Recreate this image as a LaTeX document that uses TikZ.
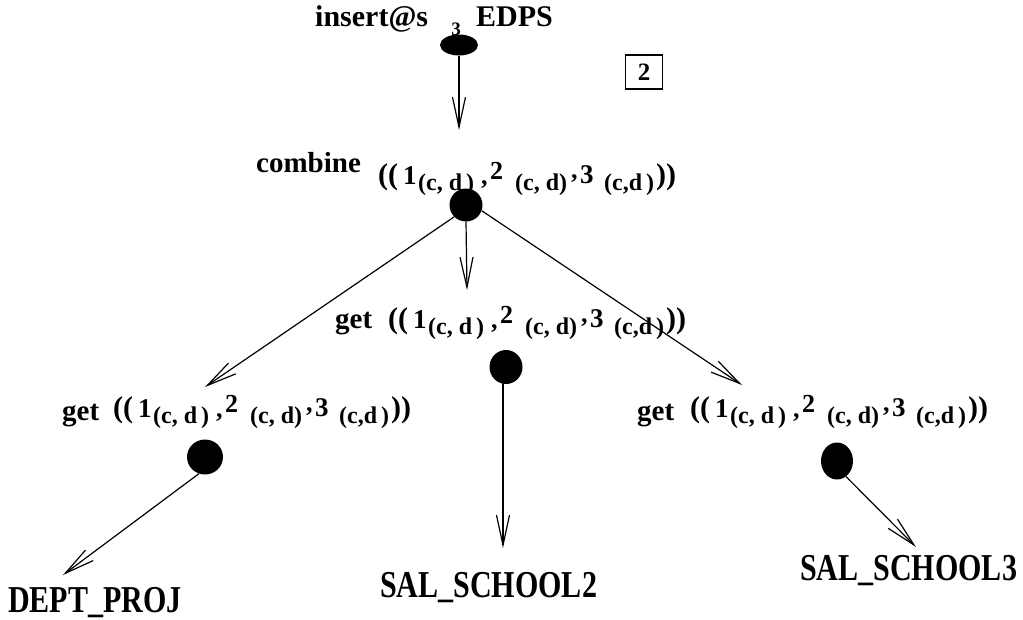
\documentclass[tikz,border=0pt]{standalone}
\usepackage{fontspec}
\setmainfont{Liberation Serif}
\usetikzlibrary{arrows.meta,shapes.geometric}

% one piece of a tuple label: horizontal offset, raise, size, text
\newcommand\tpart[4]{\rlap{\hspace*{#1pt}\raisebox{#2pt}{\fontsize{#3}{#3}\selectfont #4}}}
% tuple label ((1_(c,d), 2_(c,d), 3_(c,d)))
\newcommand\tuplabel{%
  \tpart{0}{0}{30}{((}%
  \tpart{25}{0}{27}{1}%
  \tpart{40}{-6}{24}{(c,\ d\,)}%
  \tpart{103}{0}{26}{,}%
  \tpart{112}{5}{26}{2}%
  \tpart{137}{-6}{24}{(c,\ d)}%
  \tpart{193}{6}{26}{,}%
  \tpart{202}{1}{27}{3}%
  \tpart{226}{-6}{24}{(c,d\,)}%
  \tpart{278}{0}{30}{))}%
  \hspace*{298pt}}

\begin{document}
\begin{tikzpicture}[x=1pt,y=-1pt,
  edge/.style={line width=1.2pt,-{Straight Barb[length=30pt,width=13pt,line width=1.2pt]}},
  dot/.style={ellipse,fill=black,inner sep=0pt},
  lbl/.style={font=\bfseries\fontsize{29}{30}\selectfont,inner sep=0pt,anchor=base west},
  tup/.style={font=\bfseries,inner sep=0pt,anchor=base west},
  leaf/.style={font=\bfseries\fontsize{38}{38}\selectfont,inner sep=0pt,anchor=base west,xscale=0.79},
]
\useasboundingbox (0,0) rectangle (1023,619);

% top operation
\node[lbl,font=\bfseries\fontsize{30}{30}\selectfont] (ins) at (315,26) {insert@s};
\node[lbl,font=\bfseries\fontsize{30}{30}\selectfont] (edps) at (476,26) {EDPS};
\node[dot,minimum width=38pt,minimum height=21pt] (d0) at (459,45) {};
\node[font=\bfseries\fontsize{19}{19}\selectfont,inner sep=0pt,anchor=base] (three) at (456,35) {3};
\node[draw,line width=1.1pt,inner sep=0pt,minimum width=37pt,minimum height=34pt,
      font=\bfseries\fontsize{25}{25}\selectfont] (box) at (644,72) {2};

% combine
\node[lbl] (comb) at (256,172) {combine};
\node[tup] (combt) at (378,184) {\tuplabel};
\node[dot,minimum width=33pt,minimum height=33pt] (d1) at (466,205) {};

% middle get
\node[lbl] (g2) at (335,328) {get};
\node[tup] (g2t) at (388,328) {\tuplabel};
\node[dot,minimum width=33pt,minimum height=34pt] (d2) at (506,367) {};

% left get
\node[lbl] (g1) at (62,420) {get};
\node[tup] (g1t) at (113,417) {\tuplabel};
\node[dot,minimum width=36pt,minimum height=35pt] (d3) at (205,457) {};

% right get
\node[lbl] (g3) at (637,420) {get};
\node[tup] (g3t) at (690,417) {\tuplabel};
\node[dot,minimum width=32pt,minimum height=37pt] (d4) at (837,461) {};

% leaves
\node[leaf] (l1) at (8,612) {DEPT\_PROJ};
\node[leaf] (l2) at (380,597) {SAL\_SCHOOL2};
\node[leaf] (l3) at (800,580) {SAL\_SCHOOL3};

% connector end points
\coordinate (t0) at (459,130);
\coordinate (t1) at (205,387);
\coordinate (t2) at (467,290);
\coordinate (t3) at (742,385);
\coordinate (t4) at (63,575);
\coordinate (t5) at (503,548);
\coordinate (t6) at (916,547);
\coordinate (s2) at (503,383);

\draw[edge] (d0.south) -- (t0);
\draw[edge] (d1.225) -- (t1);
\draw[edge] (d1.south) -- (t2);
\draw[edge] (d1.-20) -- (t3);
\draw[edge] (d3.250) -- (t4);
\draw[edge] (s2) -- (t5);
\draw[edge] (d4.-60) -- (t6);
\end{tikzpicture}
\end{document}
